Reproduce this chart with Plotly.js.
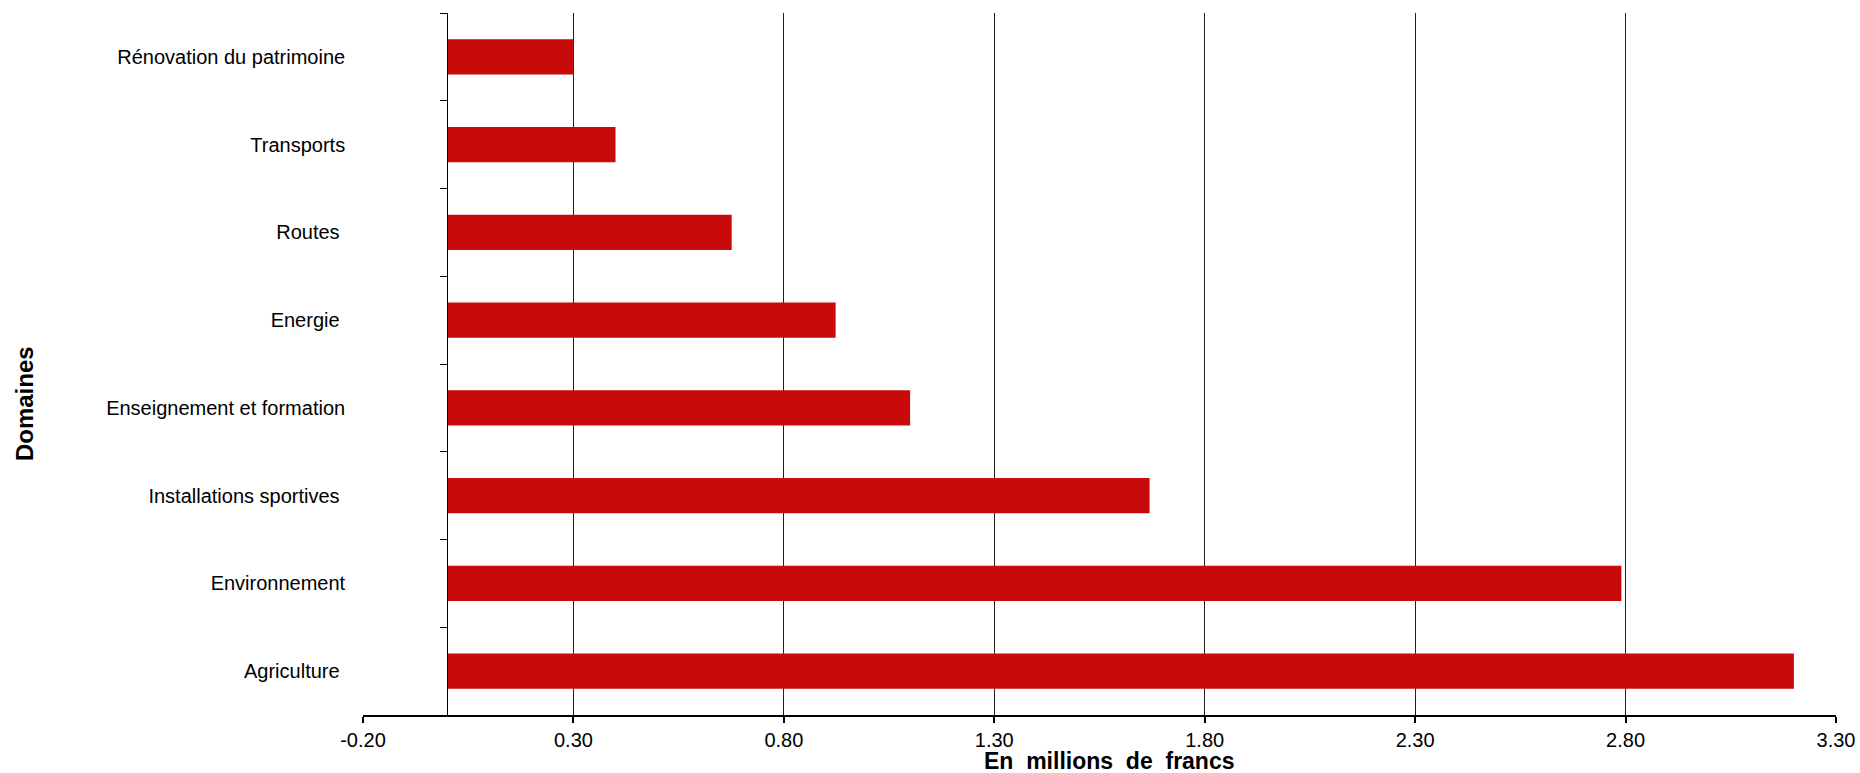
<!DOCTYPE html>
<html>
<head>
<meta charset="utf-8">
<script src="https://cdn.plot.ly/plotly-3.0.1.min.js"></script>
<style>html,body{margin:0;padding:0;background:#fff;}#chart{width:1860px;height:773px;}</style>
</head>
<body>
<div id="chart"></div>
<script>
// Data (top to bottom as shown)
const categories = [
  "Rénovation du patrimoine",
  "Transports",
  "Routes\u00a0",
  "Energie\u00a0",
  "Enseignement et formation",
  "Installations sportives\u00a0",
  "Environnement",
  "Agriculture\u00a0"
];
const values = [0.30, 0.40, 0.676, 0.923, 1.10, 1.669, 2.79, 3.20];
const xTickVals = [-0.20, 0.30, 0.80, 1.30, 1.80, 2.30, 2.80, 3.30];
const xTickText = ["-0.20", "0.30", "0.80", "1.30", "1.80", "2.30", "2.80", "3.30"];
const xTitle = "En\u00a0 millions\u00a0 de\u00a0 francs";
const yTitle = "Domaines";

const xRange = [-0.2, 3.3];
const yAxisPos = (0 - xRange[0]) / (xRange[1] - xRange[0]);

const font = "Liberation Sans, Arial, sans-serif";

const trace = {
  type: "bar",
  orientation: "h",
  y: categories,
  x: values,
  width: 0.4,
  marker: { color: "#C80A0A", line: { width: 0 } },
  hoverinfo: "x+y",
  showlegend: false
};

const layout = {
  width: 1860,
  height: 773,
  margin: { l: 363, r: 24, t: 13, b: 58, pad: 0 },
  paper_bgcolor: "#fff",
  plot_bgcolor: "#fff",
  font: { family: font, size: 20, color: "#000" },
  xaxis: {
    range: xRange,
    tickmode: "array",
    tickvals: xTickVals,
    ticktext: xTickText,
    showgrid: true,
    gridcolor: "#222",
    gridwidth: 1,
    zeroline: false,
    showline: true,
    linecolor: "#000",
    linewidth: 2,
    ticks: "outside",
    ticklen: 6,
    tickwidth: 2,
    tickcolor: "#000",
    tickfont: { family: font, size: 20, color: "#000" },
    automargin: false,
    fixedrange: true
  },
  yaxis: {
    type: "category",
    categoryorder: "array",
    categoryarray: categories,
    autorange: "reversed",
    anchor: "free",
    position: yAxisPos,
    showline: true,
    linecolor: "#000",
    linewidth: 1,
    ticks: "outside",
    tickson: "boundaries",
    ticklen: 7,
    tickwidth: 1,
    tickcolor: "#000",
    ticklabelstandoff: 98,
    showgrid: false,
    zeroline: false,
    tickfont: { family: font, size: 20, color: "#000" },
    automargin: false,
    fixedrange: true
  },
  annotations: [
    {
      text: "<b>" + xTitle + "</b>",
      xref: "paper", yref: "paper",
      x: 0.507, y: -0.066,
      xanchor: "center", yanchor: "middle",
      showarrow: false,
      font: { family: font, size: 23, color: "#000" }
    },
    {
      text: "<b>" + yTitle + "</b>",
      xref: "paper", yref: "paper",
      x: -0.2301, y: 0.443,
      xanchor: "center", yanchor: "middle",
      textangle: -90,
      showarrow: false,
      font: { family: font, size: 24, color: "#000" }
    }
  ]
};

Plotly.newPlot("chart", [trace], layout, { displayModeBar: false, staticPlot: true });
</script>
</body>
</html>
